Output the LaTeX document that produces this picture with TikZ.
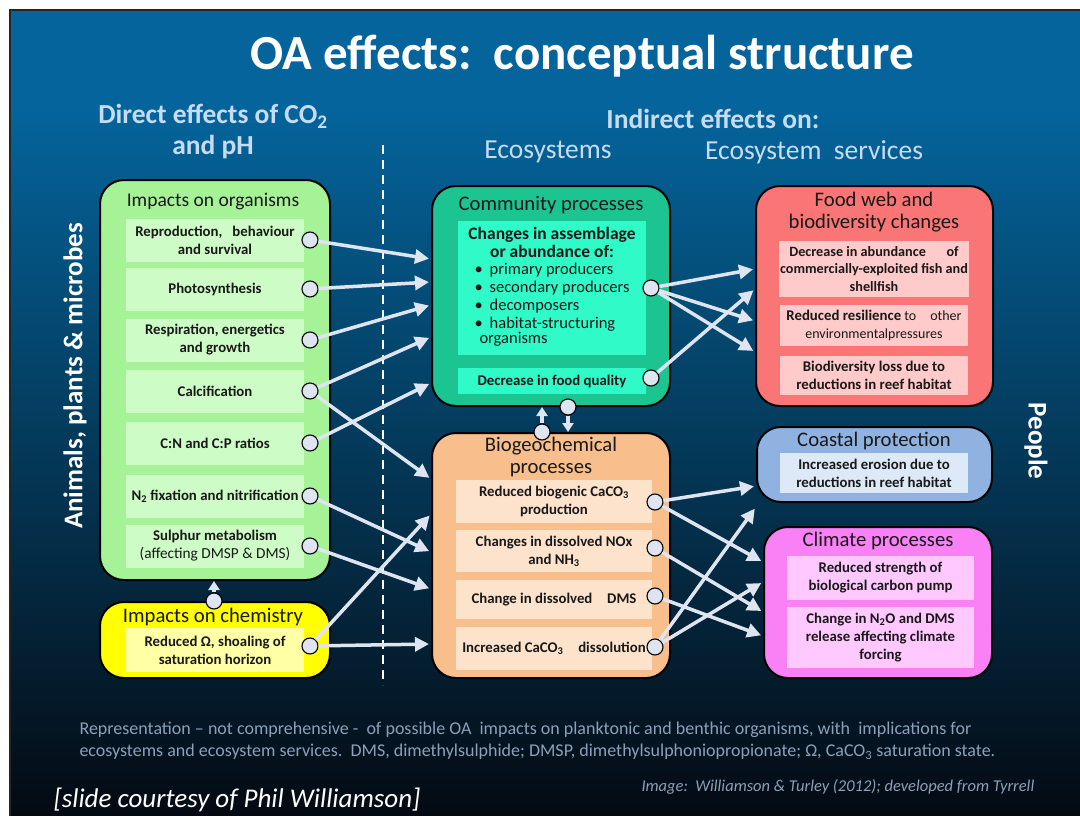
\documentclass[tikz,border=0pt]{standalone}
\usepackage{fontspec}
\setmainfont{Carlito}
\usepackage{tikz}
\usetikzlibrary{arrows.meta,calc}
\definecolor{slidetop}{RGB}{4,100,155}
\definecolor{slidebot}{RGB}{4,10,18}
\definecolor{headblue}{RGB}{198,220,242}
\definecolor{orggreen}{RGB}{166,243,151}
\definecolor{orgitem}{RGB}{206,252,198}
\definecolor{chemyel}{RGB}{255,255,0}
\definecolor{chemitem}{RGB}{255,255,165}
\definecolor{commteal}{RGB}{28,196,146}
\definecolor{commitem}{RGB}{48,250,200}
\definecolor{bgcorange}{RGB}{248,190,140}
\definecolor{bgcitem}{RGB}{253,227,204}
\definecolor{foodred}{RGB}{250,118,118}
\definecolor{fooditem}{RGB}{255,202,202}
\definecolor{coastblue}{RGB}{143,178,225}
\definecolor{coastitem}{RGB}{221,233,246}
\definecolor{climpink}{RGB}{250,128,245}
\definecolor{climitem}{RGB}{255,200,255}
\definecolor{arrowc}{RGB}{222,229,240}
\definecolor{notec}{RGB}{140,160,186}
\definecolor{inktxt}{RGB}{25,25,25}

\begin{document}
\begin{tikzpicture}[x=1pt,y=-1pt,
    grp/.style={draw=black,line width=2pt,rounded corners=24pt,inner sep=0pt},
    gtitle/.style={font=\fontsize{20.7}{22}\selectfont,text=inktxt,align=center,inner sep=0pt},
    item/.style={align=center,text=inktxt,inner sep=1pt,font=\bfseries\fontsize{14.8}{18}\selectfont},
    oitem/.style={item,fill=orgitem,minimum width=178pt,minimum height=43pt},
    bitem/.style={item,fill=bgcitem,minimum width=196pt},
    fitem/.style={item,fill=fooditem,minimum width=188pt},
    kitem/.style={item,fill=climitem,minimum width=187pt},
    dot/.style={circle,draw=black,line width=1.1pt,fill=arrowc,minimum size=16pt,inner sep=0pt},
    flow/.style={draw=arrowc,line width=3.5pt,-{Triangle[length=14pt,width=14pt]},shorten >=2pt},
    stub/.style={draw=arrowc,line width=3.5pt,-{Triangle[length=9pt,width=11pt]}},
    hdr/.style={text=headblue,align=center,font=\bfseries\fontsize{27.5}{31}\selectfont}]
  \useasboundingbox (0,0) rectangle (1080,816);
  \fill[white] (0,0) rectangle (1080,816);
  \fill[slidetop] (10,10) rectangle (1080,110);
  \shade[top color=slidetop,bottom color=slidebot] (10,110) rectangle (1080,816);
  \draw[black!85,line width=1.5pt] (10,816) -- (10,10) -- (1080,10);

  \node[font=\bfseries\fontsize{49}{55}\selectfont,text=white] (title) at (582,56) {OA effects:\ \ conceptual structure};
  \node[hdr] (direct) at (213,132) {Direct effects of CO\textsubscript{2}\\and pH};
  \node[hdr] (indirect) at (713,119) {Indirect effects on:};
  \node[hdr,font=\fontsize{27.5}{30}\selectfont] (eco) at (548,152) {Ecosystems};
  \node[hdr,font=\fontsize{27.5}{30}\selectfont] (ecoserv) at (814,152) {Ecosystem\ \ services};
  \node[rotate=90,text=white,font=\bfseries\fontsize{27}{30}\selectfont] (animals) at (75,376) {Animals, plants \& microbes};
  \node[rotate=-90,text=white,font=\bfseries\fontsize{27}{30}\selectfont] (people) at (1036,441) {People};
  \coordinate (dtop) at (383,145); \coordinate (dbot) at (383,685);
  \draw[white,line width=1.5pt,dash pattern=on 9pt off 6pt] (dtop) -- (dbot);

  \node[grp,fill=orggreen,minimum width=230pt,minimum height=400pt] (org) at (215,380) {};
  \node[gtitle,font=\fontsize{19.5}{22}\selectfont] (orgT) at (213,201) {Impacts on organisms};
  \node[oitem] (rep) at (215,240) {Reproduction,\ \ \ behaviour\\and survival};
  \node[oitem] (pho) at (215,289) {Photosynthesis};
  \node[oitem] (res) at (215,340) {Respiration, energetics\\and growth};
  \node[oitem] (cal) at (215,391) {Calcification};
  \node[oitem] (cnp) at (215,443) {C:N and C:P ratios};
  \node[oitem] (nfx) at (215,496) {N\textsubscript{2} fixation and nitrification};
  \node[oitem] (sul) at (215,546) {Sulphur metabolism\\{\mdseries\fontsize{15.3}{18}\selectfont(affecting DMSP \& DMS)}};

  \node[grp,fill=chemyel,minimum width=230pt,minimum height=76pt] (chem) at (215,640) {};
  \node[gtitle] (chemT) at (213,617) {Impacts on chemistry};
  \node[item,fill=chemitem,minimum width=178pt,minimum height=44pt] (omega) at (215,650) {Reduced Ω, shoaling of\\saturation horizon};

  \node[grp,fill=commteal,minimum width=238pt,minimum height=220pt] (comm) at (551,296) {};
  \node[gtitle] (commT) at (551,205) {Community processes};
  \node[item,fill=commitem,minimum width=188pt,minimum height=134pt,font=\bfseries\fontsize{17.5}{18}\selectfont] (assem) at (552,288)
    {Changes in assemblage\\or abundance of:\\[4pt]
     {\mdseries\fontsize{16.5}{18}\selectfont\begin{tabular}{@{}l@{\hspace{7pt}}l@{}}
       •&primary producers\\ •&secondary producers\\ •&decomposers\\ •&habitat-structuring\\[-3pt] \multicolumn{2}{@{\hspace{5pt}}l}{organisms}
     \end{tabular}}};
  \node[item,fill=commitem,minimum width=188pt,minimum height=26pt] (foodq) at (552,381) {Decrease in food quality};

  \node[grp,fill=bgcorange,minimum width=238pt,minimum height=245pt] (bgc) at (551,555.5) {};
  \node[gtitle] (bgcT) at (551,457) {Biogeochemical\\processes};
  \node[bitem,minimum height=43pt] (biog) at (554,501.5) {Reduced biogenic CaCO\textsubscript{3}\\production};
  \node[bitem,minimum height=42pt] (nox) at (554,551) {Changes in dissolved NOx\\and NH\textsubscript{3}};
  \node[bitem,minimum height=39pt] (dms) at (554,599.5) {Change in dissolved\quad DMS};
  \node[bitem,minimum height=43pt] (diss) at (554,648.5) {Increased CaCO\textsubscript{3}\quad dissolution};

  \node[grp,fill=foodred,minimum width=237pt,minimum height=220pt] (food) at (874.5,296) {};
  \node[gtitle] (foodT) at (874,212) {Food web and\\biodiversity changes};
  \node[fitem,minimum height=56pt,font=\bfseries\fontsize{14.2}{17.5}\selectfont] (fish) at (874,269) {Decrease in abundance\quad\ \ of\\commercially-exploited fish and\\shellfish};
  \node[fitem,minimum height=41pt,font=\fontsize{14}{18}\selectfont] (resil) at (874,325.5) {\textbf{\fontsize{14.8}{18}\selectfont Reduced resilience} to\quad other\\environmentalpressures};
  \node[fitem,minimum height=39pt] (bdloss) at (874,375.5) {Biodiversity loss due to\\reductions in reef habitat};

  \node[grp,fill=coastblue,minimum width=235pt,minimum height=75pt] (coast) at (874.5,464.5) {};
  \node[gtitle] (coastT) at (874,441) {Coastal protection};
  \node[item,fill=coastitem,minimum width=188pt,minimum height=40pt] (erosion) at (874,473) {Increased erosion due to\\reductions in reef habitat};

  \node[grp,fill=climpink,minimum width=228pt,minimum height=151pt] (clim) at (878,602.5) {};
  \node[gtitle] (climT) at (878,541) {Climate processes};
  \node[kitem,minimum height=44pt] (pump) at (880.5,578) {Reduced strength of\\biological carbon pump};
  \node[kitem,minimum height=61pt] (ntwo) at (880.5,637.5) {Change in N\textsubscript{2}O and DMS\\release affecting climate\\forcing};

  \node[dot] (repd) at (310,240) {}; \node[dot] (phod) at (310,289) {};
  \node[dot] (resd) at (310,340) {}; \node[dot] (cald) at (310,391) {};
  \node[dot] (cnpd) at (310,443) {}; \node[dot] (nfxd) at (310,496) {};
  \node[dot] (suld) at (310,546) {}; \node[dot] (omegad) at (310,646) {};
  \node[dot] (chemd) at (214,601) {};
  \node[dot] (assemd) at (651,288) {}; \node[dot] (foodqd) at (651,378) {};
  \node[dot] (commd) at (568,407) {}; \node[dot] (bgcd) at (542,432) {};
  \node[dot] (biogd) at (655,502) {}; \node[dot] (noxd) at (655,548) {};
  \node[dot] (dmsd) at (655,596) {}; \node[dot] (dissd) at (655,647) {};

  \draw[stub] (chemd) -- (chemd |- org.south);
  \draw[stub] (bgcd) -- (bgcd |- comm.south); \draw[stub] (commd) -- (commd |- bgc.north);
  \draw[flow] (repd) -- ($(comm.north west)+(0,74)$); \draw[flow] (phod) -- ($(comm.north west)+(0,97)$);
  \draw[flow] (resd) -- ($(comm.north west)+(0,120)$); \draw[flow] (cald) -- ($(comm.north west)+(0,152)$);
  \draw[flow] (cnpd) -- ($(comm.north west)+(0,198)$);
  \draw[flow] (cald) -- ($(bgc.north west)+(0,47)$); \draw[flow] (omegad) -- ($(bgc.north west)+(0,82)$);
  \draw[flow] (nfxd) -- ($(bgc.north west)+(0,120)$); \draw[flow] (suld) -- ($(bgc.north west)+(0,157)$);
  \draw[flow] (omegad) -- ($(bgc.north west)+(0,212)$);
  \draw[flow] (assemd) -- ($(food.north west)+(0,84)$); \draw[flow] (foodqd) -- ($(food.north west)+(0,104)$);
  \draw[flow] (assemd) -- ($(food.north west)+(0,136)$); \draw[flow] (assemd) -- ($(food.north west)+(0,167)$);
  \draw[flow] (biogd) -- ($(coast.north west)+(0,60)$); \draw[flow] (dissd) -- ($(coast.north west)+(0,81)$);
  \draw[flow] (biogd) -- ($(clim.north west)+(0,36)$); \draw[flow] (dissd) -- ($(clim.north west)+(0,56)$);
  \draw[flow] (noxd) -- ($(clim.north west)+(0,86)$); \draw[flow] (dmsd) -- ($(clim.north west)+(0,110)$);

  \node[anchor=west,align=left,text=notec,font=\fontsize{18}{22}\selectfont] (note) at (76,741)
    {Representation – not comprehensive -\ \ of possible OA\ \ impacts on planktonic and benthic organisms, with\ \ implications for\\
     ecosystems and ecosystem services.\ \ DMS, dimethylsulphide; DMSP, dimethylsulphoniopropionate; Ω, CaCO\textsubscript{3} saturation state.};
  \node[anchor=west,text=notec,font=\itshape\fontsize{16.5}{18}\selectfont] (credit) at (638,787) {Image:\ \ Williamson \& Turley (2012); developed from Tyrrell};
  \node[anchor=west,text=white,font=\itshape\fontsize{27}{30}\selectfont] (courtesy) at (50,800) {[slide courtesy of Phil Williamson]};
\end{tikzpicture}
\end{document}
